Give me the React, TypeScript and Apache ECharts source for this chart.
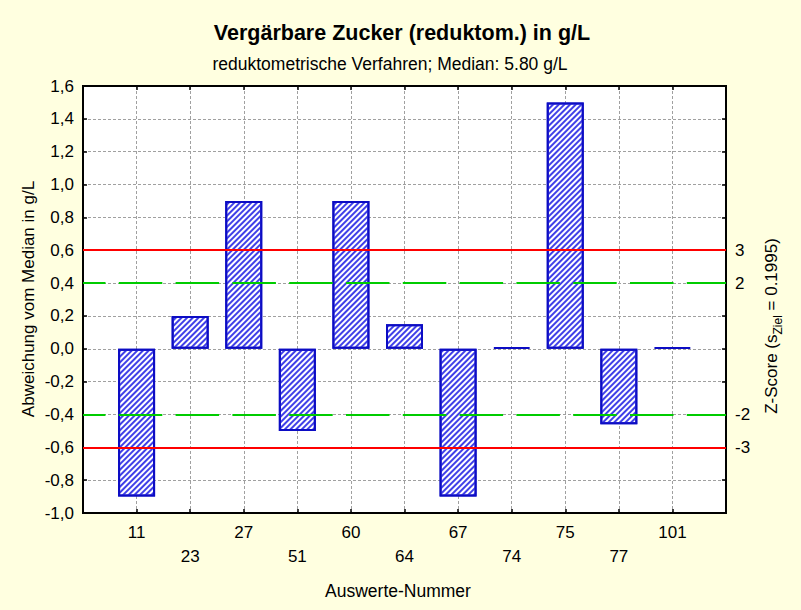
import React, { useEffect, useRef } from "react";
import * as echarts from "echarts";

const categories = ["11", "23", "27", "51", "60", "64", "67", "74", "75", "77", "101"];
const deviations = [-0.9, 0.2, 0.9, -0.5, 0.9, 0.15, -0.9, 0, 1.5, -0.46, 0];
const zScoreLabels = [3, 2, -2, -3];
const zScorePositions = [0.6, 0.4, -0.4, -0.6];
const redLimits = [0.6, -0.6];
const greenLimits = [0.4, -0.4];

const titleText = "Vergärbare Zucker (reduktom.) in g/L";
const subtitleText = "reduktometrische Verfahren; Median: 5.80 g/L";
const xName = "Auswerte-Nummer";
const yName = "Abweichung vom Median in g/L";

const FONT = "'Liberation Sans', Arial, Helvetica, sans-serif";

export default function App() {
  const ref = useRef<HTMLDivElement>(null);
  useEffect(() => {
    document.body.style.margin = "0";
    if (!ref.current) return;
    const chart = echarts.init(ref.current, undefined, { renderer: "svg" });
    const gridLine = { show: true, lineStyle: { color: "#a0a0a0", type: [3, 2] as any, width: 1 } };
    const tick = { show: true, inside: true, length: 4, lineStyle: { color: "#000", width: 1.5 } };
    const axisLine = { show: true, onZero: false, lineStyle: { color: "#000", width: 2 } };
    chart.setOption({
      animation: false,
      backgroundColor: "#ffffe0",
      textStyle: { fontFamily: FONT },
      title: [
        {
          text: titleText,
          left: 402,
          top: 22,
          textAlign: "center",
          padding: 0,
          textStyle: { fontFamily: FONT, fontSize: 21.5, fontWeight: "bold", color: "#000" },
        },
        {
          text: subtitleText,
          left: 390,
          top: 55,
          textAlign: "center",
          padding: 0,
          textStyle: { fontFamily: FONT, fontSize: 17.5, fontWeight: "normal", color: "#000" },
        },
      ],
      grid: {
        left: 83,
        right: 75,
        top: 86,
        bottom: 97,
        show: true,
        backgroundColor: "#ffffff",
        borderColor: "#000",
        borderWidth: 2,
      },
      xAxis: [
        {
          type: "value",
          min: 0,
          max: 12,
          interval: 1,
          position: "bottom",
          axisLine,
          axisTick: tick,
          splitLine: gridLine,
          axisLabel: {
            margin: 8,
            fontFamily: FONT,
            fontSize: 17,
            lineHeight: 23.5,
            color: "#000",
            formatter: (v: number) => {
              const i = Math.round(v) - 1;
              if (i < 0 || i >= categories.length) return "";
              return i % 2 === 0 ? categories[i] : "\n" + categories[i];
            },
          },
        },
        {
          type: "value",
          min: 0,
          max: 12,
          interval: 1,
          position: "top",
          axisLine,
          axisTick: tick,
          splitLine: { show: false },
          axisLabel: { show: false },
        },
      ],
      yAxis: [
        {
          type: "value",
          min: -1,
          max: 1.6,
          interval: 0.2,
          position: "left",
          axisLine,
          axisTick: tick,
          splitLine: gridLine,
          axisLabel: {
            margin: 9,
            fontFamily: FONT,
            fontSize: 17,
            color: "#000",
            formatter: (v: number) => (Math.abs(v) < 1e-9 ? 0 : v).toFixed(1).replace(".", ","),
          },
        },
        {
          type: "value",
          min: -1,
          max: 1.6,
          interval: 0.2,
          position: "right",
          axisLine,
          axisTick: tick,
          splitLine: { show: false },
          axisLabel: {
            margin: 9,
            fontFamily: FONT,
            fontSize: 17,
            color: "#000",
            formatter: (v: number) => {
              const idx = zScorePositions.findIndex((p) => Math.abs(p - v) < 1e-6);
              return idx >= 0 ? String(zScoreLabels[idx]) : "";
            },
          },
        },
      ],
      graphic: [
        {
          type: "text",
          x: 28,
          y: 299,
          rotation: Math.PI / 2,
          style: {
            text: yName,
            font: `17px ${FONT}`,
            fill: "#000",
            align: "center",
            verticalAlign: "middle",
            textAlign: "center",
            textVerticalAlign: "middle",
          },
        },
        {
          type: "text",
          x: 771,
          y: 326,
          rotation: Math.PI / 2,
          style: {
            text: "Z-Score (s{sub|Ziel} = 0.1995)",
            fontFamily: FONT,
            fontSize: 17,
            lineHeight: 26,
            fill: "#000",
            align: "center",
            verticalAlign: "middle",
            textAlign: "center",
            textVerticalAlign: "middle",
            rich: {
              sub: { fontFamily: FONT, fontSize: 12, verticalAlign: "bottom", lineHeight: 26 },
            },
          },
        },
        {
          type: "text",
          x: 398,
          y: 591,
          style: {
            text: xName,
            font: `17.5px ${FONT}`,
            fill: "#000",
            align: "center",
            verticalAlign: "middle",
            textAlign: "center",
            textVerticalAlign: "middle",
          },
        },
      ],
      series: [
        {
          type: "bar",
          xAxisIndex: 0,
          yAxisIndex: 0,
          data: deviations.map((v, i) => [i + 1, v]),
          barWidth: 37,
          barMinHeight: 1.5,
          itemStyle: {
            color: "#ffffff",
            borderColor: "#0c0cc4",
            borderWidth: 2,
            decal: {
              symbol: "rect",
              symbolSize: 1,
              color: "#4040e8",
              backgroundColor: "#ffffff",
              dashArrayX: [1, 0],
              dashArrayY: [1.2, 1.8],
              rotation: -Math.PI / 4,
            },
          },
          markLine: {
            silent: true,
            symbol: ["none", "none"],
            label: { show: false },
            data: [
              ...redLimits.map((v) => ({ yAxis: v, lineStyle: { color: "#ff0000", width: 2, type: "solid" } })),
              ...greenLimits.map((v) => ({
                yAxis: v,
                lineStyle: { color: "#00cc00", width: 2, type: [43.5, 13.3], dashOffset: 21 },
              })),
            ],
          },
        },
      ],
    });
    return () => chart.dispose();
  }, []);
  return <div ref={ref} style={{ position: "fixed", left: 0, top: 0, width: 801, height: 610 }} />;
}
